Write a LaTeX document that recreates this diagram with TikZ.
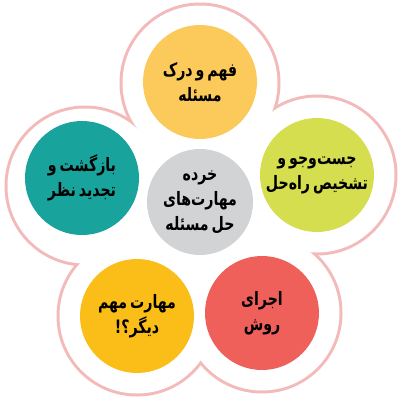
\documentclass[tikz,border=0pt]{standalone}
\usepackage{fontspec}
\newfontfamily\arabicfont[Script=Arabic,FakeStretch=0.85,WordSpace=0.6]{DejaVu Sans Condensed}
\TeXXeTstate=1
\definecolor{outlinepink}{HTML}{F4BABA}
\definecolor{ctop}{HTML}{FCC95B}
\definecolor{cright}{HTML}{D5DE4F}
\definecolor{cleft}{HTML}{18A39D}
\definecolor{cbr}{HTML}{EF605B}
\definecolor{cbl}{HTML}{FBBE18}
\definecolor{ccenter}{HTML}{D2D3D5}
\begin{document}
\begin{tikzpicture}[x=1pt,y=-1pt]
\tikzset{
  petal/.style={circle,minimum size=114pt,inner sep=0pt,draw=none,align=center,
    font=\arabicfont\bfseries\fontsize{18.5}{25}\selectfont},
  lobering/.style={fill=outlinepink},
  lobeinner/.style={fill=white}
}
\useasboundingbox (0,0) rectangle (400,400);
\fill[white] (0,0) rectangle (400,400);
% lobe centres of the scalloped outline
\coordinate (lT) at (200,83);
\coordinate (lR) at (317,175);
\coordinate (lL) at (85,186);
\coordinate (lBR) at (262,313);
\coordinate (lBL) at (137,316);
% inner meeting points of neighbouring lobes
\coordinate (vTR) at (271.5,112.5);
\coordinate (vRBR) at (309.6,252.0);
\coordinate (vB) at (200.6,359.8);
\coordinate (vBLL) at (80.6,263.2);
\coordinate (vLT) at (138.2,129.7);
\foreach \c in {lT,lR,lL,lBR,lBL} \fill[lobering] (\c) circle (80.5);
\foreach \c in {lT,lR,lL,lBR,lBL} \fill[lobeinner] (\c) circle (77.5);
\fill[lobeinner] (lT) -- (vTR) -- (lR) -- (vRBR) -- (lBR) -- (vB) -- (lBL) -- (vBLL) -- (lL) -- (vLT) -- cycle;
% petals
\node[petal,fill=ctop] (top) at (200,82) {\beginR فهم و درک\endR\\\beginR مسئله\endR};
\node[petal,fill=cright] (right) at (317,175) {\beginR جست‌وجو و\endR\\\beginR تشخیص راه‌حل\endR};
\node[petal,fill=cleft] (left) at (82,178) {\beginR بازگشت و\endR\\\beginR تجدید نظر\endR};
\node[petal,fill=cbr] (br) at (262,313) {\beginR اجرای\endR\\\beginR روش\endR};
\node[petal,fill=cbl] (bl) at (137,316) {\beginR مهارت مهم\endR\\\beginR دیگر؟!\endR};
\node[petal,fill=ccenter,minimum size=106pt] (center) at (200,202) {\beginR خرده\endR\\\beginR مهارت‌های\endR\\\beginR حل مسئله\endR};
\end{tikzpicture}
\end{document}
